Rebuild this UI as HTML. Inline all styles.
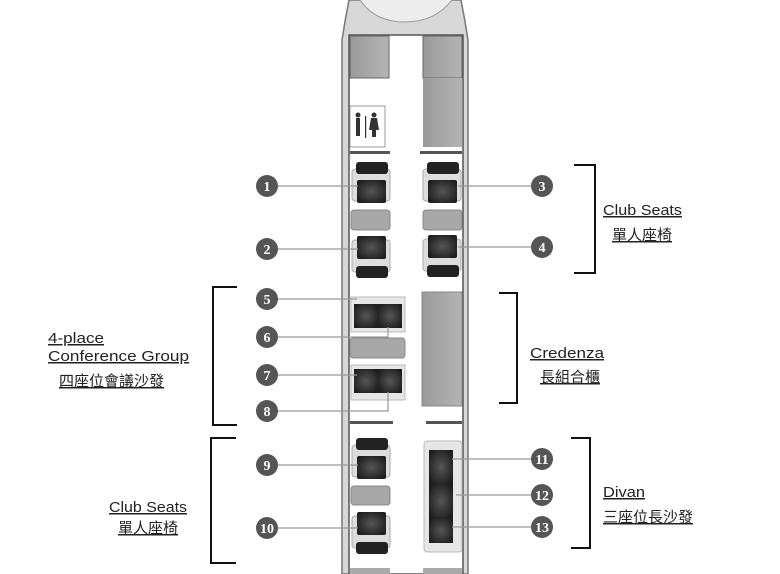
<!DOCTYPE html><html><head><style>body{margin:0;background:#fff}svg{display:block}
.t{font-family:"Liberation Sans","Noto Sans CJK TC",sans-serif;font-size:15px;fill:#222;text-decoration:underline}
.n{font-family:"Liberation Serif",serif;font-size:14px;fill:#fff;text-anchor:middle;font-weight:bold}
</style></head><body>
<svg width="780" height="574" viewBox="0 0 780 574" xmlns="http://www.w3.org/2000/svg">
<defs>
<radialGradient id="cu" cx="50%" cy="50%" r="60%"><stop offset="0" stop-color="#555"/><stop offset="1" stop-color="#1e1e1e"/></radialGradient>
<linearGradient id="gb" x1="0" x2="1"><stop offset="0" stop-color="#9a9a9a"/><stop offset="1" stop-color="#b4b4b4"/></linearGradient>
</defs>
<!-- fuselage -->
<path d="M349 0 Q345 20 342 40 L342 574 L468 574 L468 40 Q465 20 461 0 Z" fill="#d8d8d8" stroke="#777" stroke-width="1.5"/>
<path d="M360 0 Q375 22 405 22 Q435 22 452 0" fill="#ededed" stroke="#999"/>
<rect x="349" y="35" width="114" height="539" fill="#fff" stroke="#555" stroke-width="1.5"/>
<rect x="350" y="36" width="39" height="42" fill="url(#gb)" stroke="#666"/>
<rect x="423" y="36" width="39" height="42" fill="url(#gb)" stroke="#666"/>
<rect x="423" y="78" width="39" height="69" fill="url(#gb)"/>
<rect x="350" y="106" width="35" height="41" fill="#fff" stroke="#999"/>
<rect x="356" y="118" width="4" height="18" fill="#333"/><circle cx="358" cy="115" r="2.5" fill="#333"/>
<rect x="365" y="116" width="1.2" height="22" fill="#333"/>
<path d="M371 118 L377 118 L379 130 L369 130 Z" fill="#333"/><rect x="372" y="130" width="4" height="7" fill="#333"/><circle cx="374" cy="115" r="2.5" fill="#333"/>
<rect x="350" y="151" width="40" height="3" fill="#555"/><rect x="420" y="151" width="42" height="3" fill="#555"/>
<rect x="350" y="421" width="43" height="3" fill="#555"/><rect x="426" y="421" width="36" height="3" fill="#555"/>
<!-- tables -->
<g fill="#a8a8a8" stroke="#888">
<rect x="351" y="210" width="39" height="20" rx="3"/><rect x="423" y="210" width="39" height="20" rx="3"/>
<rect x="350" y="338" width="55" height="20" rx="3"/>
<rect x="351" y="486" width="39" height="19" rx="3"/>
</g>
<rect x="422" y="292" width="40" height="114" fill="url(#gb)" stroke="#888"/>
<g id="sf">
<rect x="352" y="169" width="38" height="32" rx="3" fill="#ddd" stroke="#aaa"/>
<rect x="356" y="162" width="32" height="12" rx="3" fill="#222"/>
<rect x="357" y="180" width="29" height="23" rx="2" fill="url(#cu)"/>
</g>
<use href="#sf" x="71"/>
<g id="sb">
<rect x="352" y="240" width="38" height="32" rx="3" fill="#ddd" stroke="#aaa"/>
<rect x="356" y="266" width="32" height="12" rx="3" fill="#222"/>
<rect x="357" y="236" width="29" height="23" rx="2" fill="url(#cu)"/>
</g>
<use href="#sb" x="71" y="-1"/>
<use href="#sf" y="276"/><use href="#sb" y="276"/>
<rect x="351" y="297" width="54" height="35" fill="#e6e6e6" stroke="#bbb"/>
<rect x="354" y="304" width="24" height="24" fill="url(#cu)"/><rect x="378" y="304" width="24" height="24" fill="url(#cu)"/>
<rect x="351" y="365" width="54" height="35" fill="#e6e6e6" stroke="#bbb"/>
<rect x="354" y="369" width="24" height="24" fill="url(#cu)"/><rect x="378" y="369" width="24" height="24" fill="url(#cu)"/>
<rect x="424" y="441" width="38" height="111" rx="3" fill="#e6e6e6" stroke="#bbb"/>
<rect x="429" y="450" width="24" height="34" fill="url(#cu)"/><rect x="429" y="484" width="24" height="34" fill="url(#cu)"/><rect x="429" y="518" width="24" height="25" fill="url(#cu)"/>
<rect x="350" y="568" width="40" height="6" fill="#aaa"/><rect x="423" y="568" width="39" height="6" fill="#aaa"/>
<g stroke="#999" stroke-width="1.2" fill="none">
<path d="M278 186H358M278 249H358M531 186H458M531 247H458M278 299H357M278 337H388V327M278 375H357M278 411H388V392M278 465H358M278 528H358M531 459H452M531 495H456M531 527H452"/>
</g>
<g fill="#555">
<circle cx="267" cy="186" r="11"/><circle cx="267" cy="249" r="11"/><circle cx="542" cy="186" r="11"/><circle cx="542" cy="247" r="11"/>
<circle cx="267" cy="299" r="11"/><circle cx="267" cy="337" r="11"/><circle cx="267" cy="375" r="11"/><circle cx="267" cy="411" r="11"/>
<circle cx="267" cy="465" r="11"/><circle cx="267" cy="528" r="11"/><circle cx="542" cy="459" r="11"/><circle cx="542" cy="495" r="11"/><circle cx="542" cy="527" r="11"/>
</g>
<g class="n">
<text x="267" y="191">1</text><text x="267" y="254">2</text><text x="542" y="191">3</text><text x="542" y="252">4</text>
<text x="267" y="304">5</text><text x="267" y="342">6</text><text x="267" y="380">7</text><text x="267" y="416">8</text>
<text x="267" y="470">9</text><text x="267" y="533">10</text><text x="542" y="464">11</text><text x="542" y="500">12</text><text x="542" y="532">13</text>
</g>
<g stroke="#111" stroke-width="2" fill="none">
<path d="M574 165H595V273H574"/><path d="M237 287H213V425H237"/><path d="M499 293H517V403H499"/><path d="M236 438H211V563H236"/><path d="M571 438H590V548H571"/>
</g>
<text class="t" x="603" y="215" textLength="79" lengthAdjust="spacingAndGlyphs">Club Seats</text><text class="t" x="612" y="240">單人座椅</text>
<text class="t" x="530" y="358" textLength="74" lengthAdjust="spacingAndGlyphs">Credenza</text><text class="t" x="540" y="382">長組合櫃</text>
<text class="t" x="603" y="497" textLength="42" lengthAdjust="spacingAndGlyphs">Divan</text><text class="t" x="603" y="522">三座位長沙發</text>
<text class="t" x="48" y="343" textLength="56" lengthAdjust="spacingAndGlyphs">4-place</text><text class="t" x="48" y="361" textLength="141" lengthAdjust="spacingAndGlyphs">Conference Group</text><text class="t" x="59" y="386">四座位會議沙發</text>
<text class="t" x="109" y="512" textLength="78" lengthAdjust="spacingAndGlyphs">Club Seats</text><text class="t" x="118" y="533">單人座椅</text>
</svg></body></html>
